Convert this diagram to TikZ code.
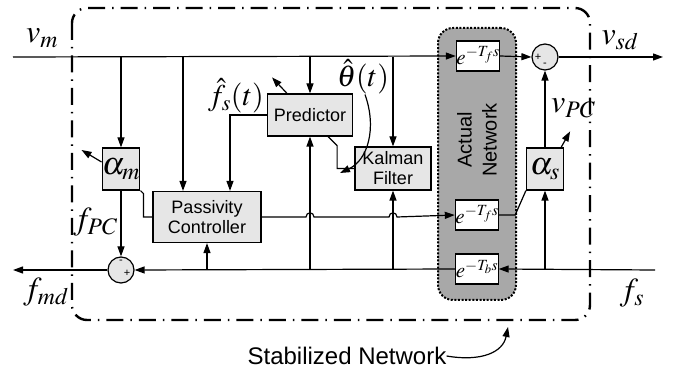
\documentclass[tikz,border=0pt]{standalone}
\usepackage{mathptmx}
\usepackage[no-math]{fontspec}
\setsansfont{Liberation Sans}
\usetikzlibrary{arrows.meta,positioning}
\definecolor{boxgray}{HTML}{E6E6E6}
\definecolor{netgray}{HTML}{A8A8A8}

\begin{document}
\begin{tikzpicture}[x=1pt, y=-1pt,
						block/.style={rectangle, draw=black, fill=boxgray, line width=1.2pt, align=center, font=\sffamily\fontsize{18}{20}\selectfont, inner sep=0pt},
						gain/.style={rectangle, draw=black, fill=boxgray, line width=1.2pt, minimum width=37, minimum height=42, inner sep=0pt, font=\fontsize{32}{32}\selectfont},
						delay/.style={rectangle, draw=black, fill=white, line width=1.2pt, minimum width=42, minimum height=30, inner sep=0pt, font=\fontsize{21}{21}\selectfont},
						sumnode/.style={circle, draw=black, fill=boxgray, line width=1.2pt, minimum size=26, inner sep=0pt},
						sign/.style={inner sep=0pt, font=\sffamily\fontsize{11}{11}\selectfont},
						mathlbl/.style={inner sep=0pt, font=\fontsize{32}{32}\selectfont},
						network/.style={rectangle, rounded corners=15, draw=black, fill=netgray, line width=2pt, dash pattern=on 2pt off 1.6pt},
						border/.style={rounded corners=15, line width=2.4pt, dash pattern=on 17pt off 7pt on 1.5pt off 7pt}
					]
					\useasboundingbox (0,0) rectangle (686,371);
					% stabilized network border
					\draw[border] (72,8) rectangle (590,320);
					% actual network
					\node[network, minimum width=78, minimum height=272] (net) at (477,164) {};
					\node[rotate=90, align=center, inner sep=0pt, font=\sffamily\fontsize{20}{25}\selectfont] (netlbl) at (477,140) {Actual\\Network};
					\node[delay] (fwd) at (478,56) {$e^{-T_f s}$};
					\node[delay] (fwd2) at (477,215) {$e^{-T_f s}$};
					\node[delay] (bwd) at (477,269) {$e^{-T_b s}$};
					% blocks
					\node[block, minimum width=108, minimum height=51] (pc) at (207,217) {Passivity\\Controller};
					\node[block, minimum width=85, minimum height=42] (pred) at (310,115) {Predictor};
					\node[block, minimum width=76, minimum height=43] (kal) at (393,168.5) {Kalman\\Filter};
					\node[gain] (am) at (121,169) {$\alpha_m$};
					\node[gain] (as) at (545,169) {$\alpha_s$};
					\node[sumnode] (sumv) at (545,57) {};
					\node[sumnode] (sumf) at (121,270) {};
					\node[sign] (sumvp) at (538,57) {+};
					\node[sign] (sumvm) at (545,65) {-};
					\node[sign] (sumfm) at (121,262) {-};
					\node[sign] (sumfp) at (127,273) {+};
					% signal labels
					\node[mathlbl] (vmlbl) at (42,38) {$v_m$};
					\node[mathlbl] (vsdlbl) at (620,40) {$v_{sd}$};
					\node[mathlbl] (fmdlbl) at (46,292) {$f_{md}$};
					\node[mathlbl] (fslbl) at (632,293) {$f_s$};
					\node[mathlbl, anchor=east] (fpclbl) at (118,222) {$f_{PC}$};
					\node[mathlbl, anchor=west] (vpclbl) at (551,108) {$v_{PC}$};
					\node[mathlbl, anchor=east, font=\fontsize{30}{30}\selectfont] (fhatlbl) at (264,96) {$\hat{f}_s(t)$};
					\node[mathlbl, font=\fontsize{30}{30}\selectfont] (thetalbl) at (363,77) {$\hat{\theta}(t)$};
					\node[inner sep=0pt, font=\sffamily\fontsize{24}{24}\selectfont] (stab) at (347,356) {Stabilized Network};
					% end points and taps
					\coordinate (vmin) at (13,57);
					\coordinate (vmout) at (663,57);
					\coordinate (fsin) at (655,270);
					\coordinate (fmdout) at (13,270);
					\coordinate (vtap1) at (121,57);
					\coordinate (vtap2) at (183,57);
					\coordinate (vtap3) at (310,57);
					\coordinate (vtap4) at (393,57);
					\coordinate (ftap1) at (207,270);
					\coordinate (ftap2) at (310,270);
					\coordinate (ftap3) at (393,270);
					\coordinate (ftap4) at (545,270);
					\coordinate (jmp1) at (310,217);
					\coordinate (jmp2) at (393,217);
					\coordinate (thetaend) at (340,173);
					\coordinate (stabend) at (508,327);
					\begin{scope}[line width=1.2pt, -{Triangle[length=10pt,width=7pt]}]
					\draw (vmin) -- (fwd.west);
					\draw (fwd.east) -- (sumv.west);
					\draw (sumv.east) -- (vmout);
					\draw (vtap1) -- (am.north);
					\draw (vtap2) -- (vtap2 |- pc.north);
					\draw (vtap3) -- (pred.north);
					\draw (vtap4) -- (kal.north);
					\draw (am.south) -- (sumf.north);
					\draw (as.north) -- (sumv.south);
					\draw (fsin) -- (bwd.east);
					\draw (bwd.west) -- (sumf.east);
					\draw (sumf.west) -- (fmdout);
					\draw (ftap1) -- (pc.south);
					\draw (ftap2) -- (pred.south);
					\draw (ftap3) -- (kal.south);
					\draw (ftap4) -- (as.south);
					\draw (pred.west) -| ([xshift=23]pc.north);
					\draw (pc.east) -- ([xshift=-4]jmp1) .. controls ([shift={(-4,-5.5)}]jmp1) and ([shift={(4,-5.5)}]jmp1) .. ([xshift=4]jmp1)
						-- ([xshift=-4]jmp2) .. controls ([shift={(-4,-5.5)}]jmp2) and ([shift={(4,-5.5)}]jmp2) .. ([xshift=4]jmp2) -- (fwd2.west);
					\draw ([yshift=7]am.west) -- ++(-20,-12);
					\draw ([xshift=-3]as.north east) -- ++(9,-16);
					\draw ([xshift=-23]pred.north) -- ++(-15,-16);
					\draw ([xshift=2]thetalbl.south) .. controls (377,128) and (368,160) .. (thetaend);
					\draw (stab.east) .. controls (482,362) and (503,352) .. (stabend);
					\end{scope}
					\begin{scope}[line width=1.2pt]
					\draw (fwd2.east) -- ++(16,0) -- (as.south west);
					\draw (am.south east) -- ++(3,3) |- (pc.west);
					\draw ([xshift=-25]pred.south east) -- ++(9,9) |- (kal.west);
					\end{scope}
					\end{tikzpicture}
\end{document}
